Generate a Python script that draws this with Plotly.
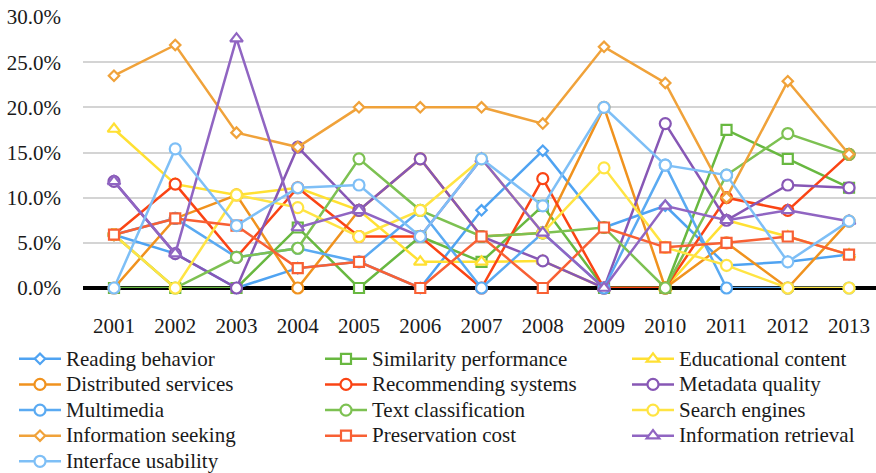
import plotly.graph_objects as go

# Share of papers per topic and year (%)
years = ["2001", "2002", "2003", "2004", "2005", "2006", "2007",
         "2008", "2009", "2010", "2011", "2012", "2013"]

reading_behavior       = [5.9, 3.8, 0.0, 2.2, 2.9, 0.0, 8.6, 15.2, 6.7, 9.1, 2.5, 2.9, 3.7]
similarity_performance = [0.0, 0.0, 0.0, 6.7, 0.0, 5.7, 2.9, 9.1, 0.0, 0.0, 17.5, 14.3, 11.1]
educational_content    = [17.6, 11.5, 10.3, 11.1, 8.6, 2.9, 2.9, 3.0, 0.0, 0.0, 7.5, 5.7, 3.7]
distributed_services   = [0.0, 7.7, 10.3, 0.0, 8.6, 14.3, 5.7, 6.1, 20.0, 0.0, 5.0, 0.0, 7.4]
recommending_systems   = [5.9, 11.5, 3.4, 11.1, 5.7, 5.7, 0.0, 12.1, 0.0, 0.0, 10.0, 8.6, 14.8]
metadata_quality       = [11.8, 3.8, 0.0, 15.6, 8.6, 14.3, 5.7, 3.0, 0.0, 18.2, 7.5, 11.4, 11.1]
multimedia             = [5.9, 7.7, 3.4, 4.4, 2.9, 8.6, 0.0, 6.1, 0.0, 13.6, 0.0, 0.0, 0.0]
text_classification    = [5.9, 0.0, 3.4, 4.4, 14.3, 8.6, 5.7, 6.1, 6.7, 0.0, 12.5, 17.1, 14.8]
search_engines         = [5.9, 0.0, 10.3, 8.9, 5.7, 8.6, 14.3, 6.1, 13.3, 4.5, 2.5, 0.0, 0.0]
information_seeking    = [23.5, 26.9, 17.2, 15.6, 20.0, 20.0, 20.0, 18.2, 26.7, 22.7, 10.0, 22.9, 14.8]
preservation_cost      = [5.9, 7.7, 6.9, 2.2, 2.9, 0.0, 5.7, 0.0, 6.7, 4.5, 5.0, 5.7, 3.7]
information_retrieval  = [11.8, 3.8, 27.6, 6.7, 8.6, 5.7, 14.3, 6.1, 0.0, 9.1, 7.5, 8.6, 7.4]
interface_usability    = [0.0, 15.4, 6.9, 11.1, 11.4, 5.7, 14.3, 9.1, 20.0, 13.6, 12.5, 2.9, 7.4]

y_ticks = [0, 5, 10, 15, 20, 25, 30]
y_tick_labels = [f"{v:.1f}%" for v in y_ticks]

# name, values, colour, marker symbol, marker size, legend column
series = [
    ("Reading behavior",       reading_behavior,       "#4FA3F2", "diamond",     8,  "legend"),
    ("Similarity performance", similarity_performance, "#68B840", "square",      10, "legend2"),
    ("Educational content",    educational_content,    "#FFE033", "triangle-up", 11, "legend3"),
    ("Distributed services",   distributed_services,   "#F0921E", "circle",      11, "legend"),
    ("Recommending systems",   recommending_systems,   "#FA4414", "circle",      11, "legend2"),
    ("Metadata quality",       metadata_quality,       "#8757B5", "circle",      11, "legend3"),
    ("Multimedia",             multimedia,             "#5AAAF2", "circle",      11, "legend"),
    ("Text classification",    text_classification,    "#7DC152", "circle",      11, "legend2"),
    ("Search engines",         search_engines,         "#FFE443", "circle",      11, "legend3"),
    ("Information seeking",    information_seeking,    "#F0A23A", "diamond",     8,  "legend"),
    ("Preservation cost",      preservation_cost,      "#F86034", "square",      10, "legend2"),
    ("Information retrieval",  information_retrieval,  "#9065C2", "triangle-up", 11, "legend3"),
    ("Interface usability",    interface_usability,    "#7EBFF6", "circle",      11, "legend"),
]

SERIF = "Liberation Serif"
TEXT_COLOR = "#1a1a1a"
PLOT_LEFT, PLOT_WIDTH = 83, 793

fig = go.Figure()
for name, values, color, symbol, size, legend_id in series:
    fig.add_trace(go.Scatter(
        x=years, y=values, mode="lines+markers",
        name=f'<span style="font-size:21px">{name}</span>',
        legend=legend_id,
        line=dict(color=color, width=2.5),
        marker=dict(symbol=symbol, size=size, color="white",
                    line=dict(color=color, width=2.2)),
        cliponaxis=False,
    ))


def legend_column(x_px):
    # one legend per column, stacked entries, placed under the plot
    return dict(
        orientation="v", xref="paper", yref="container",
        x=(x_px - PLOT_LEFT) / PLOT_WIDTH, y=1 - 341 / 473,
        xanchor="left", yanchor="top",
        itemwidth=42, tracegroupgap=0,
        font=dict(family=SERIF, size=17.4, color=TEXT_COLOR),
        bgcolor="rgba(0,0,0,0)",
    )


fig.update_layout(
    width=876, height=473,
    margin=dict(l=PLOT_LEFT, r=0, t=17, b=184.5),
    paper_bgcolor="white", plot_bgcolor="white",
    font=dict(family=SERIF, size=21, color=TEXT_COLOR),
    showlegend=True,
    legend=legend_column(14),
    legend2=legend_column(320),
    legend3=legend_column(627),
    xaxis=dict(
        type="category", range=[-0.506, 12.44],
        showgrid=False, showline=False, zeroline=False,
        ticks="", ticklabelstandoff=23,
        tickfont=dict(family=SERIF, size=21, color=TEXT_COLOR),
    ),
    yaxis=dict(
        range=[0, 30], tickmode="array", tickvals=y_ticks, ticktext=y_tick_labels,
        showgrid=True, gridcolor="#D4D4D4", gridwidth=1.5,
        zeroline=True, zerolinecolor="black", zerolinewidth=3.5,
        showline=False, ticks="", ticklabelstandoff=21,
        tickfont=dict(family=SERIF, size=21, color=TEXT_COLOR),
    ),
)

fig.write_html("out.html")
